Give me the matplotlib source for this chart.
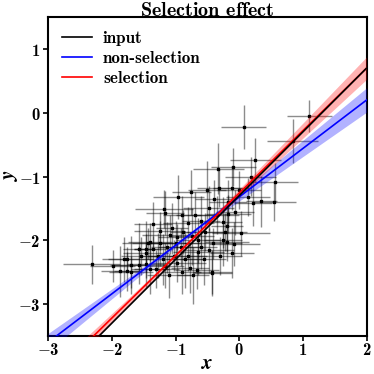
import numpy as np
import matplotlib
matplotlib.use("Agg")
import matplotlib.pyplot as plt
from matplotlib.ticker import FuncFormatter

plt.rcParams['mathtext.fontset'] = 'custom'
plt.rcParams['mathtext.bf'] = 'cmb10'
plt.rcParams['mathtext.rm'] = 'cmb10'
plt.rcParams['mathtext.fallback'] = 'cm'

# ---- data ----
x_obs = [-2.32, -1.99, -1.87, -1.81, -1.76, -1.77, -1.70, -1.70, -1.58, -1.58,
         -1.47, -1.44, -1.46, -1.40, -1.36, -1.24, -1.13, -0.92, -1.16, -0.80,
         -1.05, -1.08, -0.97, -0.88, -0.74, -0.53, -0.48, -0.41, -0.26, -1.47,
         -1.27, -1.03, -0.77, -0.66, -0.72, -0.42, -0.97, -0.81, -0.64, -0.22,
         -0.25, -1.18, -0.96, -0.50, -0.31, -0.48, -0.33, -0.09, 0.25, 0.07,
         1.10, 0.84, 0.14, 0.22, 0.35, 0.55, 0.18, -0.06, -0.17, -0.19,
         0.03, -0.19, -0.08, -0.11, -0.42, -0.11, 0.57, -0.17, 0.00, -1.16,
         -1.30, -0.60, -0.65, -0.90, -1.00, -0.85, -0.55, -1.55, -1.20, -0.70,
         -0.35, -1.25, -1.40, -0.60, -0.30, -0.90, -1.10, -0.40, -0.75, -1.35]
y_obs = [-2.38, -2.41, -2.49, -2.30, -2.30, -2.49, -2.50, -2.39, -2.13, -2.39,
         -2.38, -2.05, -2.14, -2.03, -2.13, -2.05, -2.11, -2.11, -1.57, -1.73,
         -1.81, -1.91, -1.95, -1.87, -1.94, -1.87, -2.16, -2.05, -2.00, -2.20,
         -2.24, -2.24, -2.43, -2.47, -2.55, -2.50, -2.36, -2.24, -2.19, -1.87,
         -1.72, -1.51, -1.32, -1.21, -1.18, -1.50, -0.88, -0.85, -0.74, -0.22,
         -0.05, -0.44, -1.32, -1.42, -1.39, -1.40, -1.00, -1.56, -1.59, -1.78,
         -1.89, -2.03, -2.06, -2.20, -2.52, -1.18, -1.09, -1.40, -1.21, -2.40,
         -2.45, -1.70, -2.00, -1.60, -2.05, -2.30, -2.30, -2.25, -2.30, -1.60,
         -1.60, -1.85, -2.45, -2.10, -2.25, -2.50, -2.55, -1.35, -1.25, -1.75]
x_err = [0.45, 0.35, 0.30, 0.25, 0.40, 0.20, 0.35, 0.30, 0.25, 0.45,
         0.30, 0.40, 0.20, 0.35, 0.30, 0.45, 0.25, 0.35, 0.30, 0.40,
         0.25, 0.45, 0.30, 0.20, 0.35, 0.30, 0.40, 0.45, 0.30, 0.35,
         0.25, 0.40, 0.30, 0.35, 0.25, 0.30, 0.45, 0.30, 0.40, 0.35,
         0.30, 0.45, 0.40, 0.30, 0.35, 0.40, 0.40, 0.35, 0.40, 0.35,
         0.35, 0.40, 0.35, 0.30, 0.25, 0.35, 0.40, 0.30, 0.35, 0.25,
         0.45, 0.35, 0.40, 0.35, 0.30, 0.30, 0.35, 0.30, 0.35, 0.30,
         0.35, 0.30, 0.35, 0.30, 0.40, 0.30, 0.35, 0.30, 0.35, 0.30,
         0.35, 0.40, 0.30, 0.25, 0.35, 0.30, 0.35, 0.30, 0.30, 0.30]
y_err = [0.30, 0.25, 0.40, 0.35, 0.20, 0.30, 0.25, 0.45, 0.40, 0.30,
         0.35, 0.25, 0.45, 0.30, 0.20, 0.35, 0.40, 0.30, 0.35, 0.25,
         0.40, 0.30, 0.20, 0.35, 0.45, 0.30, 0.35, 0.25, 0.40, 0.30,
         0.35, 0.25, 0.40, 0.30, 0.45, 0.35, 0.30, 0.25, 0.35, 0.30,
         0.40, 0.30, 0.35, 0.45, 0.30, 0.35, 0.40, 0.30, 0.35, 0.35,
         0.25, 0.35, 0.30, 0.35, 0.40, 0.30, 0.30, 0.35, 0.30, 0.40,
         0.35, 0.30, 0.35, 0.40, 0.35, 0.35, 0.30, 0.35, 0.30, 0.35,
         0.30, 0.40, 0.35, 0.30, 0.35, 0.45, 0.40, 0.30, 0.40, 0.35,
         0.30, 0.30, 0.40, 0.35, 0.30, 0.35, 0.35, 0.30, 0.35, 0.35]

# line fits: slope, intercept, slope error, intercept error at pivot, pivot
line_names = ["input", "non-selection", "selection"]
line_colors = ["black", "blue", "red"]
slopes = [1.00, 0.76, 0.98]
intercepts = [-1.30, -1.32, -1.26]
slope_errs = [0.0, 0.065, 0.06]
pivot_errs = [0.0, 0.03, 0.03]
pivots = [-0.9, -0.9, -0.9]

x_ticks = [-3, -2, -1, 0, 1, 2]
y_ticks = [-3, -2, -1, 0, 1]

# ---- figure ----
fig = plt.figure(figsize=(3.74, 3.74), dpi=100)
ax = fig.add_axes([0.129, 0.102, 0.851, 0.852])

ax.errorbar(x_obs, y_obs, xerr=x_err, yerr=y_err, fmt='s', ms=2.1,
            mfc='black', mec='black', ecolor=(0, 0, 0, 0.45), elinewidth=1.0,
            capsize=0, zorder=2)

xx = np.linspace(-3, 2, 200)
handles = []
for name, col, m, b, sm, sb, x0 in zip(line_names, line_colors, slopes, intercepts,
                                       slope_errs, pivot_errs, pivots):
    yy = m * xx + b
    if sm > 0:
        band = np.sqrt(sb ** 2 + (sm * (xx - x0)) ** 2)
        ax.fill_between(xx, yy - band, yy + band, color=col, alpha=0.3, lw=0, zorder=3)
    h, = ax.plot(xx, yy, color=col, lw=1.2, zorder=4 if col != 'black' else 5)
    handles.append(h)

ax.set_xlim(-3, 2)
ax.set_ylim(-3.5, 1.5)
ax.set_xticks(x_ticks)
ax.set_yticks(y_ticks)
fmt = FuncFormatter(lambda v, p: r'$\mathbf{%d}$' % int(round(v)))
ax.xaxis.set_major_formatter(fmt)
ax.yaxis.set_major_formatter(fmt)
ax.tick_params(direction='out', length=3.5, width=1.2, labelsize=12)
ax.tick_params(axis='x', pad=0)
ax.tick_params(axis='y', pad=2)
for s in ax.spines.values():
    s.set_linewidth(1.5)

ax.set_xlabel('x', fontfamily='STIXGeneral', fontstyle='italic', fontweight='bold', fontsize=15)
ax.xaxis.set_label_coords(0.5, -0.085)
ax.xaxis.label.set_va('center')
ax.set_ylabel('y', fontfamily='STIXGeneral', fontstyle='italic', fontweight='bold', fontsize=15)
ax.yaxis.set_label_coords(-0.118, 0.5)
ax.yaxis.label.set_va('center')
fig.text(0.554, 0.972, r'$\mathbf{Selection\ effect}$', fontsize=14.5, ha='center', va='center')

leg = ax.legend(handles, line_names, loc='upper left', frameon=False,
                prop={'family': 'cmb10', 'size': 12.3}, handlelength=1.75,
                handletextpad=0.65, borderaxespad=0.4, labelspacing=0.3)

fig.savefig('out.png', dpi=100)
